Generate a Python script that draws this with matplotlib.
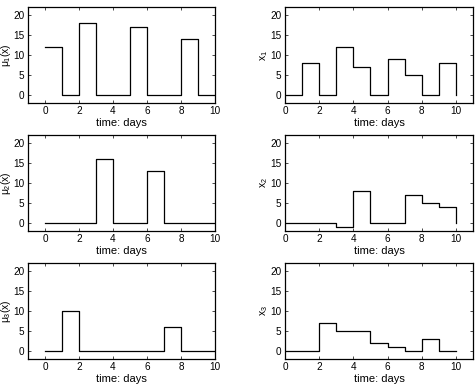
import matplotlib
matplotlib.use('Agg')
import matplotlib.pyplot as plt

plt.rcParams['font.family'] = ['Liberation Sans', 'DejaVu Sans']
plt.rcParams['mathtext.fontset'] = 'custom'
plt.rcParams['mathtext.rm'] = 'Liberation Sans'
plt.rcParams['mathtext.it'] = 'Liberation Sans'

# time grid, one value per day (stairs style)
t = list(range(11))

mu1 = [12, 0, 18, 0, 0, 17, 0, 0, 14, 0, 0]
mu2 = [0, 0, 0, 16, 0, 0, 13, 0, 0, 0, 0]
mu3 = [0, 10, 0, 0, 0, 0, 0, 6, 0, 0, 0]

x1 = [0, 8, 0, 12, 7, 0, 9, 5, 0, 8, 0]
x2 = [0, 0, 0, -1, 8, 0, 0, 7, 5, 4, 0]
x3 = [0, 0, 7, 5, 5, 2, 1, 0, 3, 0, 0]

left_series = [(mu1, r'$\mu_1$(x)'), (mu2, r'$\mu_2$(x)'), (mu3, r'$\mu_3$(x)')]
right_series = [(x1, r'x$_1$'), (x2, r'x$_2$'), (x3, r'x$_3$')]

fig = plt.figure(figsize=(4.76, 3.90), dpi=100)

W, H = 476.0, 390.0
rows = [(7, 103), (135, 231), (263, 359)]
cols = [(28, 215), (285, 473)]


def style(ax, xlim, ylabel):
    ax.set_xlim(*xlim)
    ax.set_ylim(-2, 22)
    ax.set_xticks([0, 2, 4, 6, 8, 10])
    ax.set_yticks([0, 5, 10, 15, 20])
    ax.tick_params(direction='in', length=2.5, width=0.5, labelsize=7.2,
                   top=True, right=True, pad=2.5)
    for s in ax.spines.values():
        s.set_linewidth(0.9)
    ax.set_xlabel('time: days', fontsize=8, labelpad=1)
    ax.set_ylabel(ylabel, fontsize=7.5, labelpad=0.3)


for r, (top, bot) in enumerate(rows):
    for c, (l, rr) in enumerate(cols):
        ax = fig.add_axes([l / W, 1 - bot / H, (rr - l) / W, (bot - top) / H])
        if c == 0:
            vals, lab = left_series[r]
            xlim = (-1, 10)
        else:
            vals, lab = right_series[r]
            xlim = (0, 11)
        ax.step(t, vals, where='post', color='black', linewidth=0.9)
        style(ax, xlim, lab)

fig.savefig('out.png', dpi=100)
